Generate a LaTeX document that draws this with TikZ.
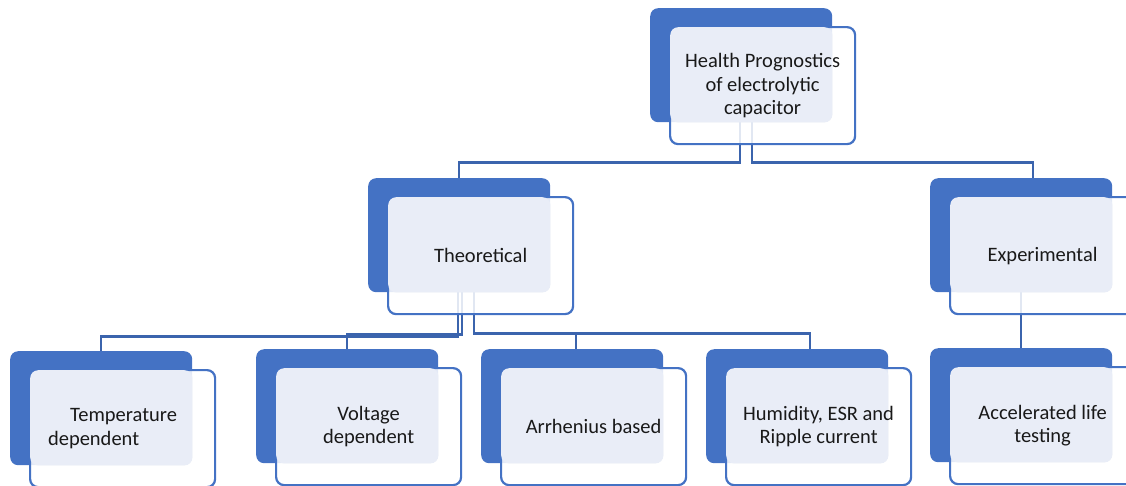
\documentclass[tikz,border=0pt]{standalone}
\usepackage{fontspec}
\setmainfont{Carlito}
\usetikzlibrary{calc,backgrounds}
\definecolor{smartblue}{RGB}{68,114,196}
\definecolor{smartpale}{RGB}{233,237,247}
\definecolor{smartline}{RGB}{59,100,173}

\tikzset{
  backbox/.style={fill=smartblue, rounded corners=8pt, minimum width=182pt, minimum height=114pt, anchor=north west, inner sep=0pt},
  frontbox/.style={fill=white, fill opacity=0.85, draw=smartblue, draw opacity=1, line width=2.2pt, rounded corners=8pt, minimum width=185pt, minimum height=117pt, anchor=north west, inner sep=0pt},
  boxtext/.style={font=\fontsize{20.5}{23.5}\selectfont, align=center, text=black!90},
  link/.style={draw=smartline, line width=2.4pt}
}

\begin{document}
\begin{tikzpicture}[x=1pt,y=-1pt]
  \useasboundingbox (0,0) rectangle (1126,485);
  % boxes: dark block, pale front card with outline, label
  \foreach \n/\x/\y/\t in {hp/650/8/{Health Prognostics\\of electrolytic\\capacitor},
      th/368/178/Theoretical, ex/930/178/Experimental,
      te/10/351/{\hspace*{20pt}Temperature\hspace*{18pt}\\dependent\hspace*{58pt}},
      vo/256/349/{Voltage\\dependent}, ar/481/349/Arrhenius based,
      hu/706/349/{Humidity, ESR and\\Ripple current}, al/930/348/{Accelerated life\\testing}} {
    \node[backbox] (\n) at (\x,\y) {};
    \node[frontbox] (\n-f) at (\x+19,\y+18) {};
    \fill[smartpale, rounded corners=8pt] ($(\n-f.north west)+(1.2,1.2)$) rectangle (\n.south east);
    \node[boxtext] (\n-t) at (\n-f.center) {\t};
  }
  % connectors behind the cards
  \begin{scope}[on background layer]
    \draw[link] ([xshift=-1pt]hp.south) -- ++(0,40) -| (th.north);
    \draw[link] ([xshift=11pt]hp.south) -- ++(0,40) -| ([xshift=12pt]ex.north);
    \draw[link] ([xshift=-1pt]th.south) -- ++(0,44) -| (te.north);
    \draw[link] ([xshift=3pt]th.south) -- ++(0,42) -| (vo.north);
    \draw[link] ([xshift=15pt]th.south) -- ++(0,41) -| ([xshift=4pt]ar.north);
    \draw[link] ([xshift=15pt]th.south) -- ++(0,41) -| ([xshift=13pt]hu.north);
    \draw[link] (ex.south) -- (al.north);
  \end{scope}
\end{tikzpicture}
\end{document}
